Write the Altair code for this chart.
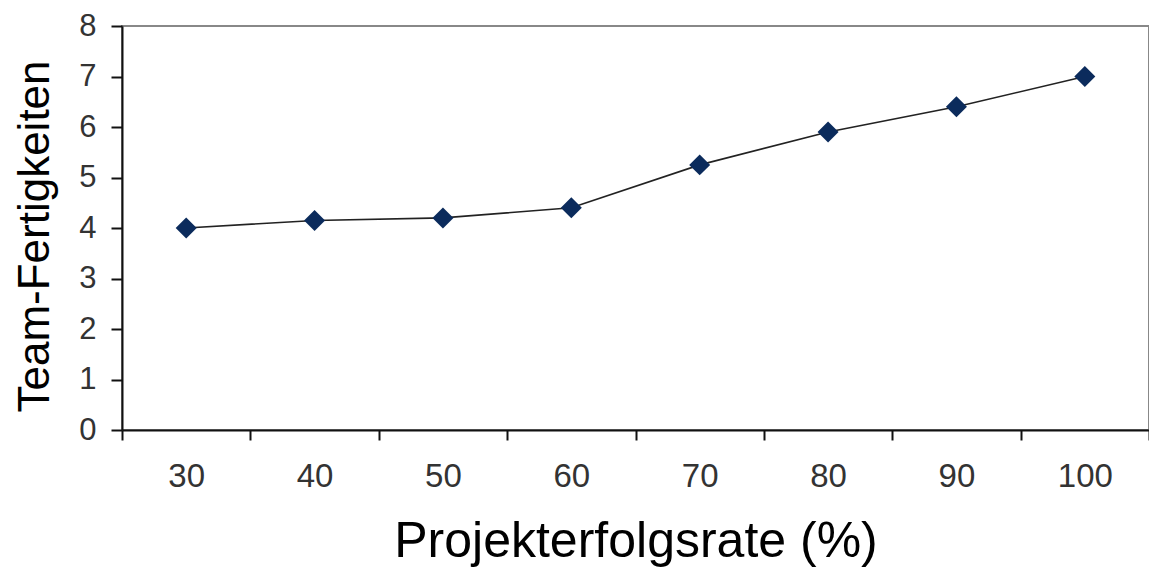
import altair as alt
import pandas as pd

categories = ["30", "40", "50", "60", "70", "80", "90", "100"]
values = [4.0, 4.15, 4.2, 4.4, 5.25, 5.9, 6.4, 7.0]
y_ticks = [0, 1, 2, 3, 4, 5, 6, 7, 8]

df = pd.DataFrame({"rate": categories, "skill": values})

x_enc = alt.X(
    "rate:O",
    sort=categories,
    scale=alt.Scale(type="band", paddingInner=0, paddingOuter=0),
    axis=alt.Axis(
        title="Projekterfolgsrate (%)",
        labelAngle=0,
        tickBand="extent",
        tickSize=10,
        tickWidth=2,
        tickColor="#111111",
        domainColor="#111111",
        domainWidth=2,
        labelFont="Liberation Sans",
        labelFontSize=33,
        labelColor="#333333",
        labelPadding=20,
        titleFont="Liberation Sans",
        titleFontSize=50,
        titleFontWeight="normal",
        titleColor="#000000",
        titleBaseline="alphabetic",
        titleY=126,
    ),
)
y_enc = alt.Y(
    "skill:Q",
    scale=alt.Scale(domain=[0, 8], nice=False, zero=True),
    axis=alt.Axis(
        title="Team-Fertigkeiten",
        values=y_ticks,
        grid=False,
        tickSize=11,
        tickWidth=2,
        tickColor="#111111",
        domainColor="#111111",
        domainWidth=2,
        labelFont="Liberation Sans",
        labelFontSize=31,
        labelColor="#333333",
        labelPadding=15,
        titleFont="Liberation Sans",
        titleFontSize=44,
        titleFontWeight="normal",
        titleColor="#000000",
        titleAngle=-90,
        titleAlign="center",
        titleBaseline="alphabetic",
        titleX=-74,
        titleY=210,
    ),
)

base = alt.Chart(df).encode(x=x_enc, y=y_enc)
line = base.mark_line(color="#222222", strokeWidth=1.6)
points = base.mark_point(shape="diamond", filled=True, size=440, color="#0b2b5c", opacity=1)

chart = (
    alt.layer(line, points)
    .properties(
        width=1027,
        height=404,
        autosize=alt.AutoSizeParams(type="none"),
        padding={"left": 114, "top": 18, "right": 0, "bottom": 137},
        background="white",
    )
    .configure_view(stroke="#888888", strokeWidth=2)
)

chart.save("out.html", embed_options={"renderer": "svg", "actions": False})
